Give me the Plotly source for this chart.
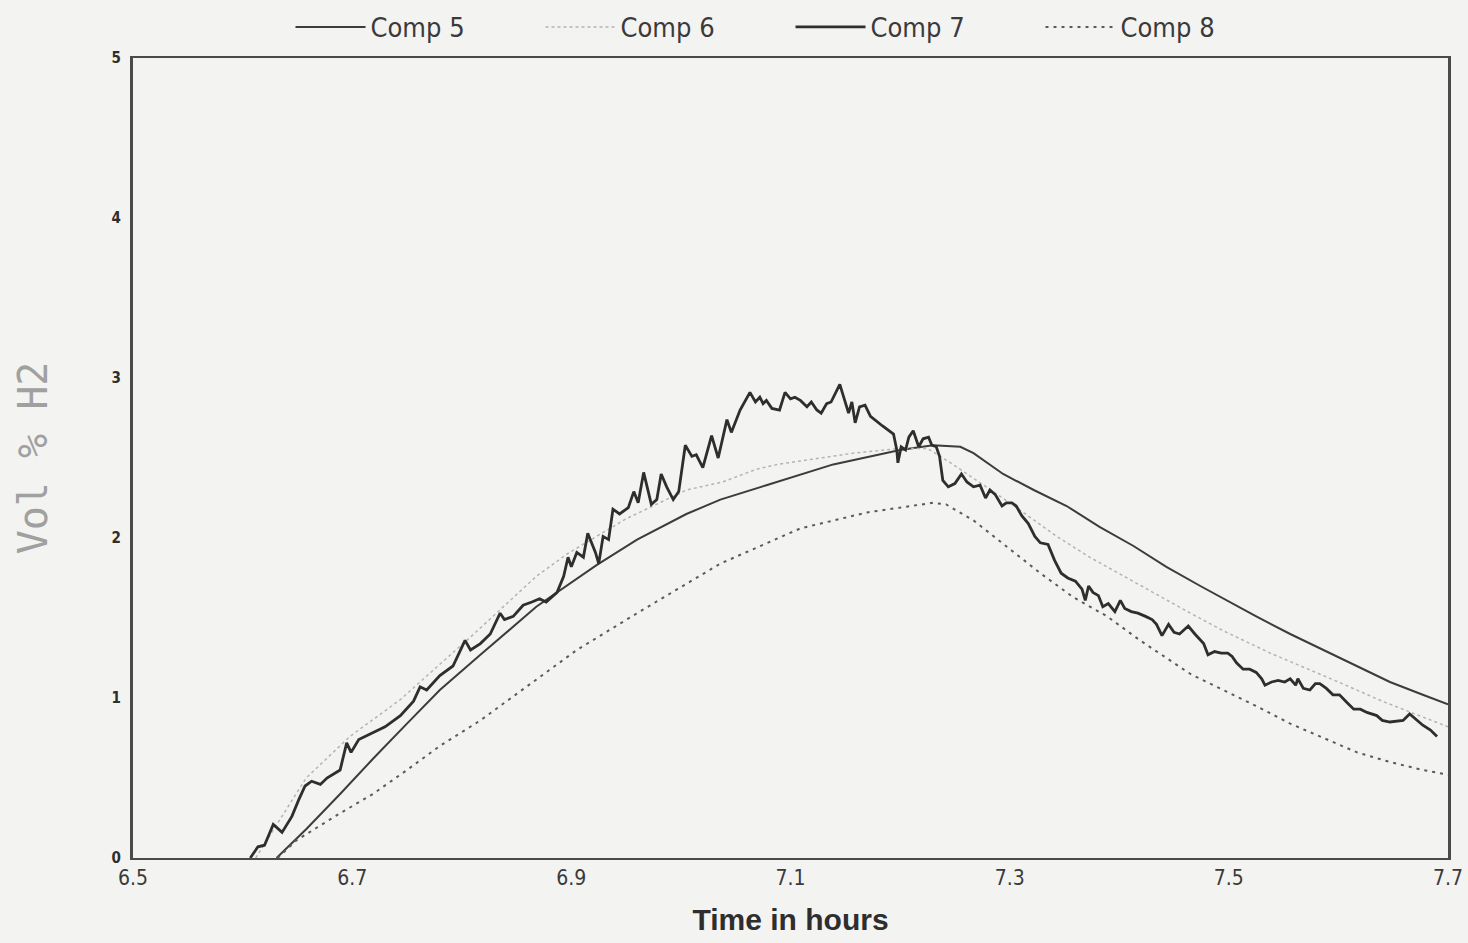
import plotly.graph_objects as go

# Hydrogen concentration (vol %) in compartments 5-8 versus time (hours)
comp5_t = [6.631, 6.658, 6.689, 6.719, 6.750, 6.780, 6.817, 6.868, 6.923, 6.960,
           7.005, 7.036, 7.078, 7.139, 7.200, 7.230, 7.255, 7.267, 7.294, 7.322,
           7.352, 7.382, 7.413, 7.443, 7.474, 7.495, 7.525, 7.556, 7.586, 7.617,
           7.647, 7.677, 7.700]
comp5_v = [0.00, 0.18, 0.40, 0.62, 0.84, 1.05, 1.27, 1.57, 1.83, 1.99,
           2.15, 2.24, 2.33, 2.46, 2.55, 2.58, 2.57, 2.53, 2.40, 2.30,
           2.20, 2.07, 1.95, 1.82, 1.70, 1.62, 1.51, 1.40, 1.30, 1.20,
           1.10, 1.02, 0.96]

comp6_t = [6.612, 6.640, 6.658, 6.698, 6.744, 6.811, 6.868, 6.896, 6.950, 7.005,
           7.038, 7.069, 7.088, 7.157, 7.200, 7.225, 7.246, 7.300, 7.343, 7.373,
           7.407, 7.446, 7.465, 7.495, 7.538, 7.600, 7.640, 7.700]
comp6_v = [0.00, 0.30, 0.50, 0.76, 0.99, 1.40, 1.76, 1.90, 2.12, 2.30,
           2.35, 2.43, 2.46, 2.53, 2.56, 2.56, 2.47, 2.22, 2.01, 1.88,
           1.75, 1.60, 1.53, 1.42, 1.28, 1.10, 0.98, 0.82]

comp7_t = [6.607, 6.614, 6.620, 6.628, 6.636, 6.645, 6.651, 6.657, 6.663, 6.671,
           6.677, 6.689, 6.695, 6.699, 6.706, 6.718, 6.730, 6.744, 6.756, 6.762,
           6.768, 6.780, 6.792, 6.803, 6.808, 6.817, 6.826, 6.835, 6.839, 6.847,
           6.856, 6.864, 6.871, 6.877, 6.887, 6.893, 6.897, 6.900, 6.905, 6.911,
           6.915, 6.922, 6.925, 6.929, 6.934, 6.938, 6.944, 6.952, 6.957, 6.961,
           6.966, 6.973, 6.978, 6.982, 6.987, 6.993, 6.998, 7.004, 7.010, 7.014,
           7.020, 7.028, 7.034, 7.042, 7.046, 7.054, 7.063, 7.068, 7.072, 7.075,
           7.078, 7.083, 7.090, 7.095, 7.100, 7.104, 7.109, 7.115, 7.119, 7.124,
           7.128, 7.133, 7.137, 7.145, 7.150, 7.153, 7.156, 7.159, 7.163, 7.168,
           7.173, 7.180, 7.184, 7.194, 7.197, 7.198, 7.201, 7.205, 7.208, 7.212,
           7.217, 7.221, 7.226, 7.229, 7.233, 7.236, 7.239, 7.244, 7.250, 7.256,
           7.261, 7.267, 7.273, 7.278, 7.282, 7.287, 7.293, 7.297, 7.302, 7.306,
           7.311, 7.317, 7.323, 7.328, 7.335, 7.341, 7.347, 7.353, 7.360, 7.366,
           7.369, 7.372, 7.376, 7.381, 7.385, 7.390, 7.396, 7.401, 7.405, 7.411,
           7.417, 7.424, 7.430, 7.434, 7.439, 7.445, 7.450, 7.455, 7.463, 7.469,
           7.477, 7.481, 7.487, 7.493, 7.499, 7.503, 7.507, 7.513, 7.519, 7.525,
           7.530, 7.533, 7.539, 7.545, 7.551, 7.556, 7.561, 7.563, 7.568, 7.574,
           7.579, 7.583, 7.589, 7.595, 7.601, 7.608, 7.614, 7.620, 7.626, 7.635,
           7.640, 7.647, 7.659, 7.665, 7.673, 7.677, 7.684, 7.690]
comp7_v = [0.00, 0.07, 0.08, 0.21, 0.16, 0.26, 0.36, 0.45, 0.48, 0.46,
           0.50, 0.55, 0.72, 0.66, 0.74, 0.78, 0.82, 0.89, 0.98, 1.07,
           1.05, 1.14, 1.20, 1.36, 1.30, 1.34, 1.40, 1.53, 1.49, 1.51,
           1.58, 1.60, 1.62, 1.60, 1.66, 1.76, 1.88, 1.82, 1.91, 1.88,
           2.03, 1.91, 1.84, 2.01, 1.99, 2.18, 2.15, 2.19, 2.29, 2.22,
           2.41, 2.21, 2.24, 2.40, 2.32, 2.24, 2.29, 2.58, 2.51, 2.52,
           2.44, 2.64, 2.50, 2.74, 2.66, 2.80, 2.91, 2.85, 2.88, 2.84,
           2.86, 2.81, 2.80, 2.91, 2.87, 2.88, 2.86, 2.82, 2.85, 2.80,
           2.78, 2.84, 2.85, 2.96, 2.85, 2.78, 2.85, 2.72, 2.82, 2.83,
           2.76, 2.72, 2.70, 2.65, 2.55, 2.47, 2.57, 2.55, 2.63, 2.67,
           2.57, 2.62, 2.63, 2.58, 2.57, 2.51, 2.36, 2.32, 2.34, 2.40,
           2.35, 2.32, 2.33, 2.25, 2.30, 2.27, 2.20, 2.22, 2.22, 2.20,
           2.14, 2.09, 2.01, 1.97, 1.96, 1.86, 1.78, 1.75, 1.73, 1.68,
           1.61, 1.70, 1.66, 1.64, 1.57, 1.59, 1.54, 1.61, 1.56, 1.54,
           1.53, 1.51, 1.49, 1.46, 1.39, 1.46, 1.41, 1.40, 1.45, 1.40,
           1.34, 1.27, 1.29, 1.28, 1.28, 1.26, 1.22, 1.18, 1.18, 1.16,
           1.12, 1.08, 1.10, 1.11, 1.10, 1.12, 1.08, 1.12, 1.06, 1.05,
           1.09, 1.09, 1.06, 1.02, 1.02, 0.97, 0.93, 0.93, 0.91, 0.89,
           0.86, 0.85, 0.86, 0.90, 0.85, 0.83, 0.80, 0.76]

comp8_t = [6.632, 6.649, 6.689, 6.719, 6.750, 6.780, 6.817, 6.905, 6.960, 7.036,
           7.109, 7.170, 7.230, 7.242, 7.267, 7.297, 7.328, 7.358, 7.389, 7.419,
           7.465, 7.495, 7.525, 7.556, 7.586, 7.617, 7.647, 7.677, 7.700]
comp8_v = [0.00, 0.11, 0.28, 0.40, 0.55, 0.70, 0.86, 1.30, 1.53, 1.84,
           2.06, 2.16, 2.22, 2.21, 2.11, 1.95, 1.78, 1.63, 1.51, 1.36,
           1.15, 1.05, 0.95, 0.84, 0.75, 0.66, 0.60, 0.55, 0.52]

x_ticks = [6.5, 6.7, 6.9, 7.1, 7.3, 7.5, 7.7]
x_tick_labels = ["6.5", "6.7", "6.9", "7.1", "7.3", "7.5", "7.7"]
y_ticks = [0, 1, 2, 3, 4, 5]

BG = "#f3f3f1"
AXIS = "#4a4a4a"

fig = go.Figure()
fig.add_trace(go.Scatter(x=comp5_t, y=comp5_v, mode="lines", name="Comp 5",
                         line=dict(color="#3c3c3c", width=2)))
fig.add_trace(go.Scatter(x=comp6_t, y=comp6_v, mode="lines", name="Comp 6",
                         line=dict(color="#b4b4b4", width=1.5, dash="dot")))
fig.add_trace(go.Scatter(x=comp7_t, y=comp7_v, mode="lines", name="Comp 7",
                         line=dict(color="#2e2e2e", width=2.8)))
fig.add_trace(go.Scatter(x=comp8_t, y=comp8_v, mode="lines", name="Comp 8",
                         line=dict(color="#5a5a5a", width=2, dash="3px,5px")))

fig.update_layout(
    width=1468, height=943,
    margin=dict(l=133, r=20, t=58, b=85, autoexpand=False),
    paper_bgcolor=BG, plot_bgcolor=BG,
    font=dict(family="DejaVu Sans Condensed, DejaVu Sans", color="#3a3a3a"),
    legend=dict(orientation="h", x=0.5, xanchor="center",
                yref="container", y=0.971, yanchor="middle",
                font=dict(size=27, color="#3a3a3a"),
                itemwidth=70,
                entrywidth=165, entrywidthmode="pixels",
                bgcolor="rgba(0,0,0,0)"),
    showlegend=True,
)
fig.update_xaxes(
    range=[6.5, 7.7], tickvals=x_ticks, ticktext=x_tick_labels,
    showgrid=False, zeroline=False, ticks="",
    showline=True, linecolor=AXIS, linewidth=1.5, mirror=True,
    tickfont=dict(size=21, color="#3a3a3a"),
    title=dict(text="Time in hours", standoff=20,
               font=dict(family="Liberation Sans, Arial", size=30, color="#2e2e2e", weight="bold")),
)
fig.update_yaxes(
    range=[0, 5], tickvals=y_ticks,
    showgrid=False, zeroline=False, ticks="",
    showline=True, linecolor=AXIS, linewidth=3, mirror=True,
    tickfont=dict(size=15, color="#2e2e2e", weight="bold"),
    ticklabelstandoff=6,
    title=dict(text="Vol % H2", standoff=52,
               font=dict(family="DejaVu Sans Mono, DejaVu Sans", size=40, color="#a0a0a0")),
)

fig.write_html("out.html")
